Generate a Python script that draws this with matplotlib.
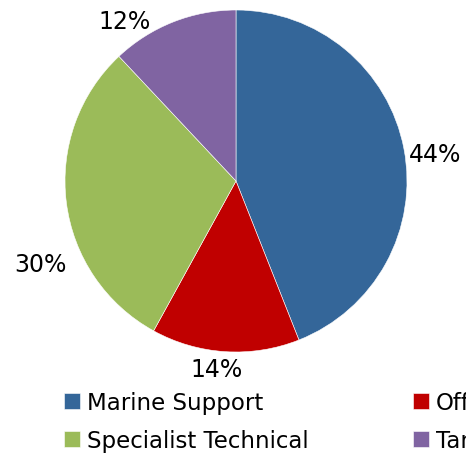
import matplotlib
matplotlib.use("Agg")
import matplotlib.pyplot as plt
import numpy as np

categories = ["Marine Support", "Offshore", "Specialist Technical", "Tankers"]
values = [44, 14, 30, 12]
colors = ["#346699", "#C00000", "#9BBB59", "#8064A2"]
label_pos = [(1.164, 0.158), (-0.111, -1.099), (-1.146, -0.485), (-0.649, 0.936)]

plt.rcParams['font.family'] = ['DejaVu Sans']
fig = plt.figure(figsize=(4.66, 4.56), dpi=100)
ax = fig.add_axes([65/466, 103/456, 342/466, 342/456])
wedges, _ = ax.pie(values, colors=colors, startangle=90, counterclock=False,
                   radius=1, wedgeprops=dict(edgecolor="white", linewidth=0.4))
ax.set_xlim(-1, 1)
ax.set_ylim(-1, 1)
ax.set_aspect('auto')
for v, (x, y) in zip(values, label_pos):
    ax.text(x, y, f"{v}%", ha="center", va="center", fontsize=17, color="black", clip_on=False)

# legend order: row-wise (Marine, Offshore / Specialist, Tankers)
order = [0, 2, 1, 3]
leg = fig.legend([wedges[i] for i in order], [categories[i] for i in order],
                 loc="upper left", bbox_to_anchor=(64/466, 1 - 392/456), ncol=2,
                 frameon=False, fontsize=16.5, handlelength=0.7, handleheight=0.7,
                 handletextpad=0.3, columnspacing=4.55, labelspacing=0.65,
                 borderpad=0, borderaxespad=0)
fig.savefig("out.png", dpi=100)
